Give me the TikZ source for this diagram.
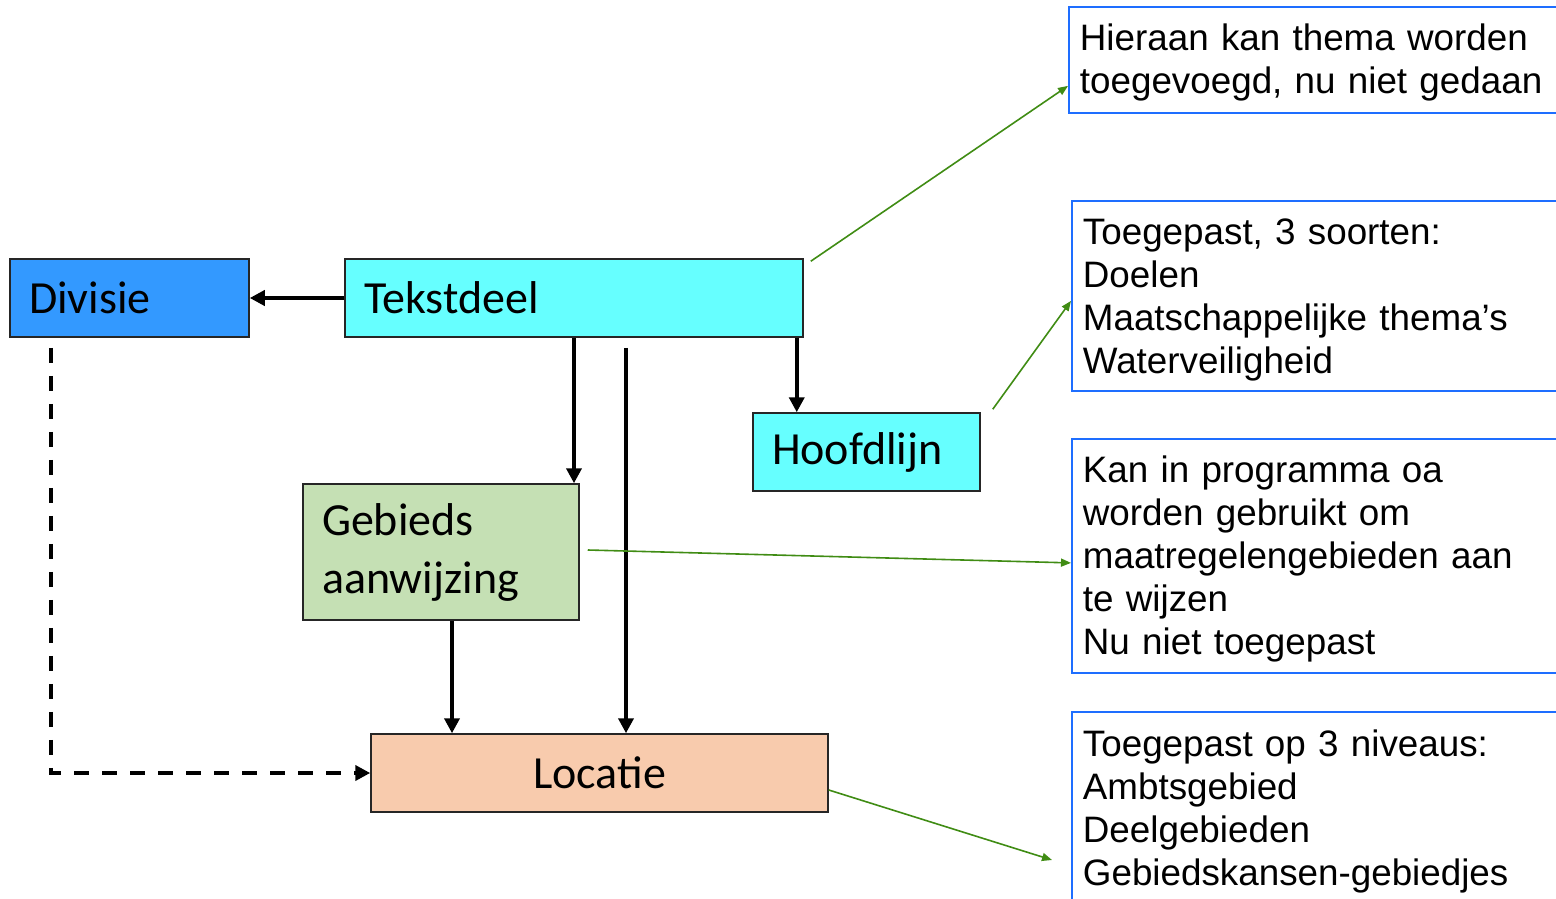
\documentclass[tikz,border=0pt]{standalone}
\usepackage{fontspec}
\usetikzlibrary{arrows.meta}
\newfontfamily\boxfont{Carlito}
\newfontfamily\notefont{Liberation Sans}
\definecolor{divblue}{RGB}{51,153,255}
\definecolor{tekstcyan}{RGB}{102,255,255}
\definecolor{gebgreen}{RGB}{197,224,180}
\definecolor{locpeach}{RGB}{248,203,173}
\definecolor{noteblue}{RGB}{30,110,255}
\definecolor{notegreen}{RGB}{64,140,20}
\tikzset{
  flowbox/.style={draw=black!85,line width=1.5pt,inner xsep=19pt,inner ysep=0pt,
    font=\boxfont\fontsize{46}{58}\selectfont,align=left},
  notebox/.style={draw=noteblue,fill=white,line width=1.8pt,anchor=north west,
    inner xsep=11pt,inner ysep=0pt,minimum width=560pt,text width=538pt,align=left,
    font=\notefont\fontsize{36.8}{43}\selectfont},
  arr/.style={line width=3.8pt,-{Triangle[length=15pt,width=15pt]}},
  dasharr/.style={arr,dash pattern=on 15pt off 13pt},
  notearr/.style={notegreen,line width=1.6pt,-{Triangle[length=10pt,width=8pt]}}
}

\begin{document}
\begin{tikzpicture}[x=1pt,y=-1pt]
        \useasboundingbox (0,0) rectangle (1556,899);
        %flow boxes
        \node[flowbox,fill=divblue,minimum width=239pt,minimum height=78pt,text width=201pt] (divisie) at (129.5,298) {Divisie};
        \node[flowbox,fill=tekstcyan,minimum width=458pt,minimum height=78pt,text width=420pt] (tekstdeel) at (574,298) {Tekstdeel};
        \node[flowbox,fill=tekstcyan,minimum width=227pt,minimum height=78pt,text width=189pt] (hoofdlijn) at (866.5,452) {Hoofdlijn};
        \node[flowbox,fill=gebgreen,minimum width=276pt,minimum height=136pt,text width=238pt] (gebieds) at (441,552) {Gebieds\\aanwijzing};
        \node[flowbox,fill=locpeach,minimum width=457pt,minimum height=78pt,text width=419pt,align=center] (locatie) at (599.5,773) {Locatie};

        %notes
        \node[notebox,minimum height=106pt] (note1) at (1068,6) {\rule{0pt}{32pt}Hieraan kan thema worden\\toegevoegd, nu niet gedaan};
        \node[notebox,minimum height=190pt] (note2) at (1071,200) {\rule{0pt}{34pt}Toegepast, 3 soorten:\\Doelen\\Maatschappelijke thema’s\\Waterveiligheid};
        \node[notebox,minimum height=234pt] (note3) at (1071,438) {\rule{0pt}{32pt}Kan in programma oa\\worden gebruikt om\\maatregelengebieden aan\\te wijzen\\Nu niet toegepast};
        \node[notebox,minimum height=199pt] (note4) at (1071,711) {Toegepast op 3 niveaus:\\Ambtsgebied\\Deelgebieden\\Gebiedskansen-gebiedjes};

        %black arrows
        \coordinate (hl) at ([xshift=-7pt]tekstdeel.south east);
        \coordinate (lc) at ([xshift=52pt,yshift=-10pt]tekstdeel.south);
        \coordinate (gb) at ([xshift=11pt]gebieds.south);
        \coordinate (dv) at ([xshift=42pt,yshift=-10pt]divisie.south west);
        \draw[arr] (tekstdeel.west) -- (divisie.east);
        \draw[arr] (tekstdeel.south) -- (tekstdeel.south |- gebieds.north);
        \draw[arr] (hl) -- (hl |- hoofdlijn.north);
        \draw[arr] (lc) -- (lc |- locatie.north);
        \draw[arr] (gb) -- (gb |- locatie.north);
        \draw[dasharr] (dv) |- (locatie.west);

        %green arrows
        \coordinate (n4) at (1052,860);
        \draw[notearr] ([xshift=7pt,yshift=-3pt]tekstdeel.north east) -- ([yshift=-26pt]note1.west);
        \draw[notearr] ([xshift=12pt,yshift=3pt]hoofdlijn.north east) -- ([yshift=-5pt]note2.west);
        \draw[notearr] ([xshift=8pt,yshift=2pt]gebieds.east) -- ([yshift=-7pt]note3.west);
        \draw[notearr] ([yshift=-17pt]locatie.east) -- (n4);
\end{tikzpicture}
\end{document}
